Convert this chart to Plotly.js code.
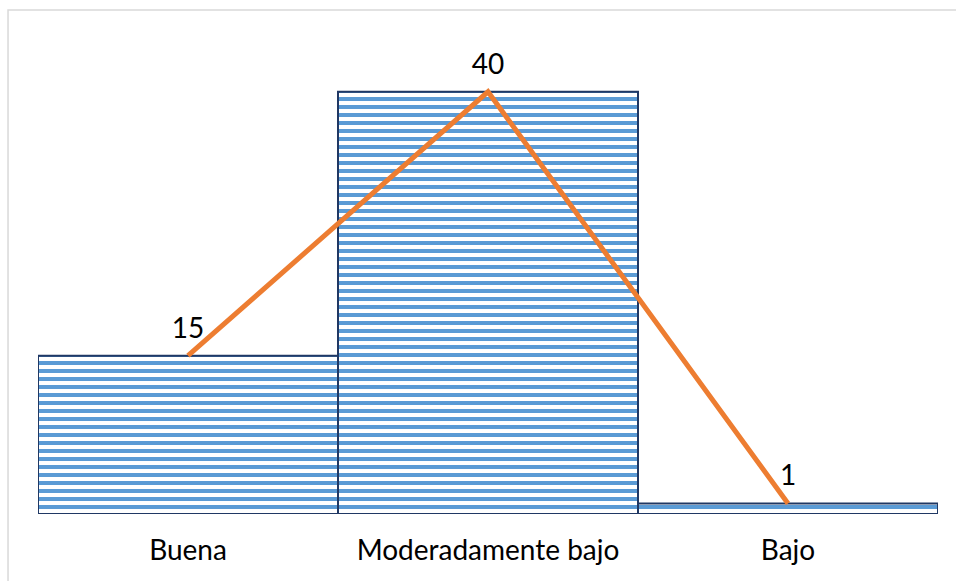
<!DOCTYPE html>
<html>
<head>
<meta charset="utf-8">
<script src="https://cdn.plot.ly/plotly-3.0.1.min.js"></script>
<style>
  html, body { margin: 0; padding: 0; background: #ffffff; }
  #chart { width: 956px; height: 581px; }
</style>
</head>
<body>
<div id="chart"></div>
<script>
var categories = ["Buena", "Moderadamente bajo", "Bajo"];
var values = [15, 40, 1];
var labels = ["15", "40", "1"];

var barTrace = {
  type: "bar",
  x: categories,
  y: values,
  marker: {
    color: "#5b9bd5",
    line: { color: "#203864", width: 2 },
    pattern: { shape: "-", size: 8, solidity: 0.5, fgcolor: "#5b9bd5", bgcolor: "#ffffff", fgopacity: 1, fillmode: "replace" }
  },
  hoverinfo: "skip",
  showlegend: false
};

var lineTrace = {
  type: "scatter",
  mode: "lines+markers+text",
  x: categories,
  y: values,
  text: labels,
  textposition: "top center",
  textfont: { family: "Lato, 'Open Sans', sans-serif", size: 28, color: "#000000" },
  marker: { size: 16, color: "rgba(0,0,0,0)" },
  line: { color: "#ed7d31", width: 5 },
  cliponaxis: false,
  hoverinfo: "skip",
  showlegend: false
};

var layout = {
  width: 956,
  height: 581,
  margin: { l: 38, r: 18, t: 39, b: 67 },
  paper_bgcolor: "#ffffff",
  plot_bgcolor: "#ffffff",
  bargap: 0,
  font: { family: "Lato, 'Open Sans', sans-serif", size: 28, color: "#000000" },
  xaxis: {
    type: "category",
    range: [-0.5, 2.5],
    showgrid: false,
    zeroline: false,
    showline: false,
    ticks: "",
    tickfont: { size: 28, color: "#000000" },
    ticklabelstandoff: 17,
    fixedrange: true
  },
  yaxis: {
    range: [0, 45],
    visible: false,
    showgrid: false,
    zeroline: false,
    fixedrange: true
  },
  shapes: [{
    type: "rect",
    xref: "paper", yref: "paper",
    x0: -0.0333, x1: 1.2, y0: -0.5, y1: 1.061,
    line: { color: "#d9d9d9", width: 1.5 },
    fillcolor: "rgba(0,0,0,0)",
    layer: "below"
  }]
};

Plotly.newPlot("chart", [barTrace, lineTrace], layout, { staticPlot: true, displayModeBar: false });
</script>
</body>
</html>
